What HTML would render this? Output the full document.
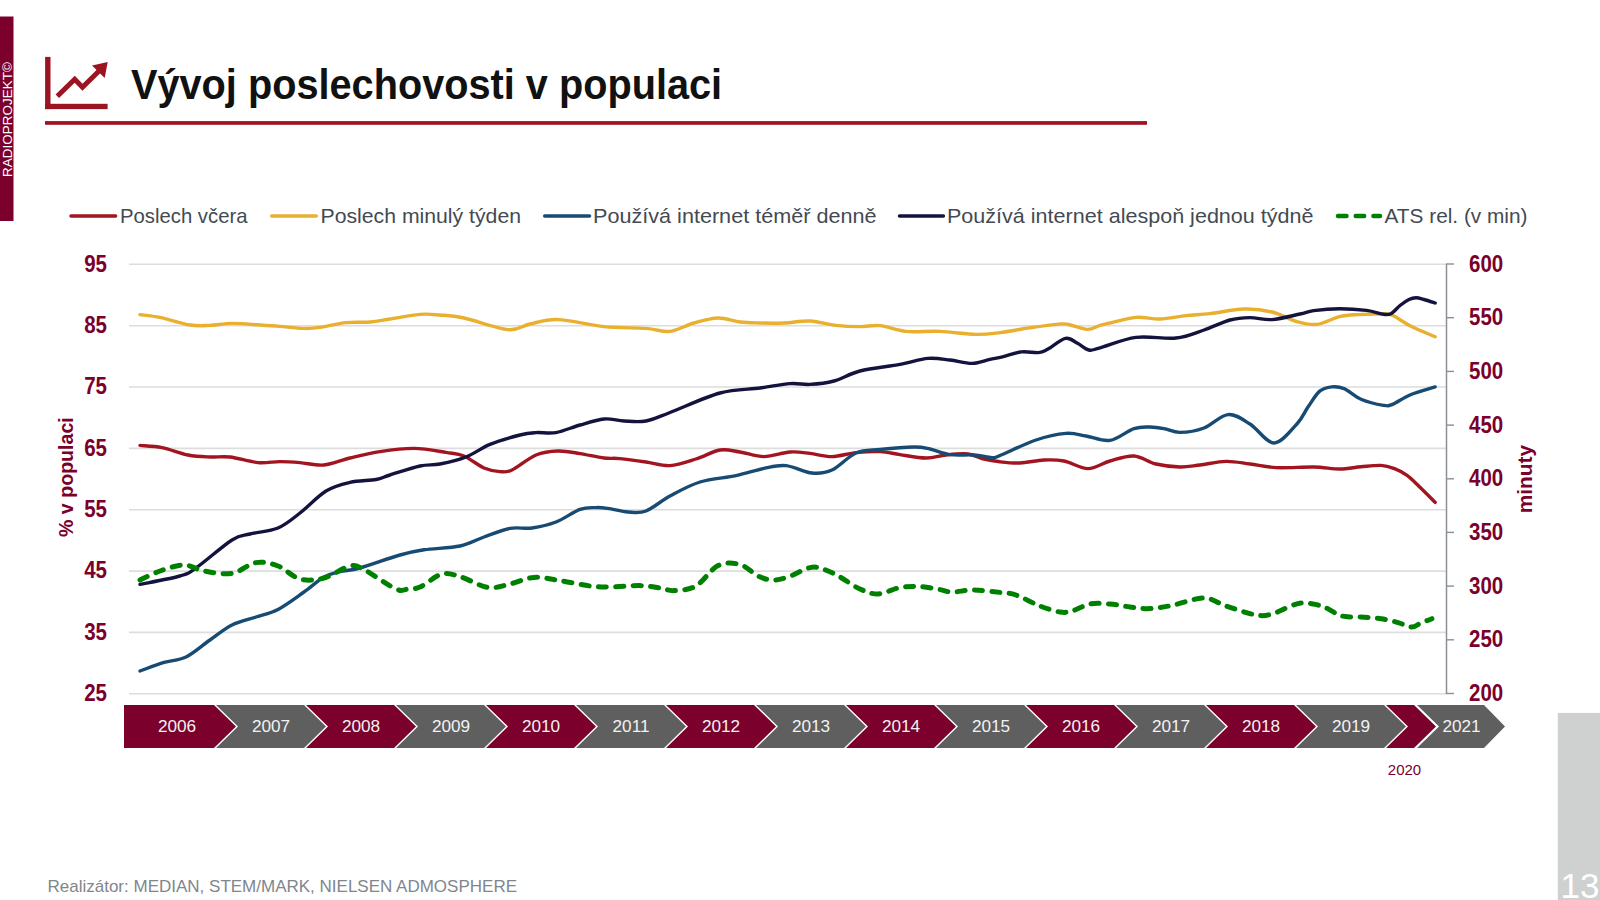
<!DOCTYPE html>
<html><head><meta charset="utf-8">
<style>
html,body{margin:0;padding:0;background:#fff;}
body{width:1600px;height:900px;overflow:hidden;position:relative;}
svg{position:absolute;left:0;top:0;}
text{font-family:"Liberation Sans",sans-serif;}
.ax{font-weight:bold;font-size:20.5px;fill:#7B002C;}
.yr{font-size:17.2px;fill:#F2F2F2;}
.lg{font-size:21px;fill:#434A52;}
</style></head><body>
<svg width="1600" height="900" viewBox="0 0 1600 900">
<rect x="0" y="16.5" width="13.5" height="204.5" fill="#7B002C"/>
<text transform="translate(11.5,177) rotate(-90)" style="font-size:13.5px;fill:#fff">RADIOPROJEKT©</text>
<g fill="#9C1421">
<rect x="45.1" y="56.9" width="5.4" height="52.2"/>
<rect x="45.1" y="103.8" width="62.5" height="5.3"/>
<polygon points="107.7,62 92,65.6 104.7,78"/>
</g>
<polyline points="57.3,96.2 74.7,79.3 82.5,87.3 99.5,70.5" fill="none" stroke="#9C1421" stroke-width="5" stroke-linejoin="miter"/>
<text x="131" y="99.5" style="font-weight:bold;font-size:39.7px;fill:#111111" transform="translate(0,99.5) scale(1,1.09) translate(0,-99.5)">Vývoj poslechovosti v populaci</text>
<rect x="45" y="121.1" width="1102" height="3.7" fill="#9C1421"/>
<!-- legend -->
<line x1="71" y1="216" x2="115.6" y2="216" stroke="#A2141F" stroke-width="3.5" stroke-linecap="round"/>
<text x="120" y="222.5" class="lg" textLength="127.5" lengthAdjust="spacingAndGlyphs">Poslech včera</text>
<line x1="271.7" y1="216" x2="316.3" y2="216" stroke="#E9B02F" stroke-width="3.5" stroke-linecap="round"/>
<text x="320.5" y="222.5" class="lg" textLength="200.5" lengthAdjust="spacingAndGlyphs">Poslech minulý týden</text>
<line x1="544.7" y1="216" x2="589.5" y2="216" stroke="#174B73" stroke-width="3.5" stroke-linecap="round"/>
<text x="593" y="222.5" class="lg" textLength="283.5" lengthAdjust="spacingAndGlyphs">Používá internet téměř denně</text>
<line x1="899.5" y1="216" x2="943.4" y2="216" stroke="#14133D" stroke-width="3.5" stroke-linecap="round"/>
<text x="947" y="222.5" class="lg" textLength="366.5" lengthAdjust="spacingAndGlyphs">Používá internet alespoň jednou týdně</text>
<line x1="1338" y1="216" x2="1380" y2="216" stroke="#008000" stroke-width="4.5" stroke-linecap="round" stroke-dasharray="8.5 9.2"/>
<text x="1384.5" y="222.5" class="lg" textLength="143" lengthAdjust="spacingAndGlyphs">ATS rel. (v min)</text>
<line x1="129" y1="264.3" x2="1447" y2="264.3" stroke="#DEDDDD" stroke-width="1.6"/>
<line x1="129" y1="325.7" x2="1447" y2="325.7" stroke="#DEDDDD" stroke-width="1.6"/>
<line x1="129" y1="387.0" x2="1447" y2="387.0" stroke="#DEDDDD" stroke-width="1.6"/>
<line x1="129" y1="448.4" x2="1447" y2="448.4" stroke="#DEDDDD" stroke-width="1.6"/>
<line x1="129" y1="509.7" x2="1447" y2="509.7" stroke="#DEDDDD" stroke-width="1.6"/>
<line x1="129" y1="571.1" x2="1447" y2="571.1" stroke="#DEDDDD" stroke-width="1.6"/>
<line x1="129" y1="632.4" x2="1447" y2="632.4" stroke="#DEDDDD" stroke-width="1.6"/>
<line x1="129" y1="693.8" x2="1447" y2="693.8" stroke="#DEDDDD" stroke-width="1.6"/>

<line x1="1446.5" y1="264" x2="1446.5" y2="694" stroke="#8A9096" stroke-width="1.5"/>
<line x1="1446" y1="264.0" x2="1454" y2="264.0" stroke="#8A9096" stroke-width="1.4"/>
<line x1="1446" y1="317.7" x2="1454" y2="317.7" stroke="#8A9096" stroke-width="1.4"/>
<line x1="1446" y1="371.4" x2="1454" y2="371.4" stroke="#8A9096" stroke-width="1.4"/>
<line x1="1446" y1="425.1" x2="1454" y2="425.1" stroke="#8A9096" stroke-width="1.4"/>
<line x1="1446" y1="478.8" x2="1454" y2="478.8" stroke="#8A9096" stroke-width="1.4"/>
<line x1="1446" y1="532.4" x2="1454" y2="532.4" stroke="#8A9096" stroke-width="1.4"/>
<line x1="1446" y1="586.1" x2="1454" y2="586.1" stroke="#8A9096" stroke-width="1.4"/>
<line x1="1446" y1="639.8" x2="1454" y2="639.8" stroke="#8A9096" stroke-width="1.4"/>
<line x1="1446" y1="693.5" x2="1454" y2="693.5" stroke="#8A9096" stroke-width="1.4"/>

<text x="107" y="0" text-anchor="end" class="ax" transform="translate(0,271.6) scale(1,1.15)">95</text>
<text x="107" y="0" text-anchor="end" class="ax" transform="translate(0,333.0) scale(1,1.15)">85</text>
<text x="107" y="0" text-anchor="end" class="ax" transform="translate(0,394.3) scale(1,1.15)">75</text>
<text x="107" y="0" text-anchor="end" class="ax" transform="translate(0,455.7) scale(1,1.15)">65</text>
<text x="107" y="0" text-anchor="end" class="ax" transform="translate(0,517.0) scale(1,1.15)">55</text>
<text x="107" y="0" text-anchor="end" class="ax" transform="translate(0,578.4) scale(1,1.15)">45</text>
<text x="107" y="0" text-anchor="end" class="ax" transform="translate(0,639.7) scale(1,1.15)">35</text>
<text x="107" y="0" text-anchor="end" class="ax" transform="translate(0,701.1) scale(1,1.15)">25</text>

<text x="1469" y="0" class="ax" transform="translate(0,271.6) scale(1,1.15)">600</text>
<text x="1469" y="0" class="ax" transform="translate(0,325.3) scale(1,1.15)">550</text>
<text x="1469" y="0" class="ax" transform="translate(0,379.0) scale(1,1.15)">500</text>
<text x="1469" y="0" class="ax" transform="translate(0,432.7) scale(1,1.15)">450</text>
<text x="1469" y="0" class="ax" transform="translate(0,486.4) scale(1,1.15)">400</text>
<text x="1469" y="0" class="ax" transform="translate(0,540.0) scale(1,1.15)">350</text>
<text x="1469" y="0" class="ax" transform="translate(0,593.7) scale(1,1.15)">300</text>
<text x="1469" y="0" class="ax" transform="translate(0,647.4) scale(1,1.15)">250</text>
<text x="1469" y="0" class="ax" transform="translate(0,701.1) scale(1,1.15)">200</text>

<text transform="translate(72.5,537) rotate(-90)" style="font-weight:bold;font-size:19.6px;fill:#7B002C">% v populaci</text>
<text transform="translate(1531.5,513.3) rotate(-90)" style="font-weight:bold;font-size:20.9px;fill:#7B002C">minuty</text>
<g fill="none" stroke-linecap="round" stroke-linejoin="round">
<path d="M140.0 314.6 C143.3 315.1 151.7 315.7 160.0 317.4 C168.3 319.1 181.7 323.7 190.0 325.0 C198.3 326.3 203.0 325.7 210.0 325.4 C217.0 325.1 223.7 323.5 232.0 323.4 C240.3 323.3 252.0 324.5 260.0 325.0 C268.0 325.5 272.7 325.8 280.0 326.4 C287.3 327.0 297.3 328.2 304.0 328.4 C310.7 328.6 313.0 328.4 320.0 327.4 C327.0 326.4 337.7 323.5 346.0 322.6 C354.3 321.7 362.7 322.6 370.0 322.0 C377.3 321.4 381.7 320.3 390.0 319.0 C398.3 317.7 411.7 315.1 420.0 314.4 C428.3 313.7 432.7 314.4 440.0 315.0 C447.3 315.6 452.7 315.6 464.0 318.0 C475.3 320.4 497.0 328.6 508.0 329.6 C519.0 330.6 521.7 325.7 530.0 324.0 C538.3 322.3 545.7 319.2 558.0 319.6 C570.3 320.0 589.3 325.1 604.0 326.6 C618.7 328.1 635.0 327.6 646.0 328.4 C657.0 329.2 662.0 332.3 670.0 331.4 C678.0 330.5 686.0 325.2 694.0 323.0 C702.0 320.8 710.3 318.2 718.0 318.0 C725.7 317.8 733.0 321.2 740.0 322.0 C747.0 322.8 752.7 322.8 760.0 323.0 C767.3 323.2 775.7 323.3 784.0 323.0 C792.3 322.7 801.3 320.6 810.0 321.0 C818.7 321.4 827.7 324.5 836.0 325.4 C844.3 326.3 852.7 326.6 860.0 326.6 C867.3 326.6 872.3 324.8 880.0 325.6 C887.7 326.4 896.0 330.4 906.0 331.4 C916.0 332.4 928.3 330.9 940.0 331.4 C951.7 331.9 966.0 334.2 976.0 334.4 C986.0 334.6 991.0 333.7 1000.0 332.6 C1009.0 331.5 1020.2 329.2 1030.0 327.8 C1039.8 326.4 1052.4 324.7 1058.8 324.1 C1065.2 323.6 1063.8 323.6 1068.5 324.5 C1073.2 325.4 1082.0 329.3 1087.3 329.4 C1092.5 329.5 1096.2 326.4 1100.0 325.3 C1103.8 324.2 1104.0 324.3 1110.0 323.0 C1116.0 321.7 1127.7 318.1 1136.0 317.4 C1144.3 316.7 1151.7 319.3 1160.0 319.0 C1168.3 318.7 1177.7 316.5 1186.0 315.6 C1194.3 314.7 1200.3 314.7 1210.0 313.6 C1219.7 312.5 1233.7 309.3 1244.0 309.0 C1254.3 308.7 1263.2 309.9 1272.0 312.0 C1280.8 314.1 1289.4 319.5 1296.9 321.6 C1304.4 323.7 1309.9 325.2 1317.0 324.4 C1324.1 323.6 1332.6 318.2 1339.6 316.6 C1346.5 315.0 1352.7 315.0 1358.7 314.6 C1364.7 314.2 1370.1 313.9 1375.6 314.0 C1381.0 314.1 1385.6 312.9 1391.4 314.9 C1397.2 316.9 1403.2 322.5 1410.5 326.1 C1417.8 329.8 1431.1 335.0 1435.2 336.8" stroke="#E9B02F" stroke-width="3.4"/>
<path d="M140.0 445.4 C143.7 445.8 154.0 446.0 162.0 447.6 C170.0 449.2 180.0 453.4 188.0 455.0 C196.0 456.6 203.0 456.7 210.0 457.0 C217.0 457.3 222.0 456.1 230.0 457.0 C238.0 457.9 249.7 461.8 258.0 462.6 C266.3 463.4 273.0 461.6 280.0 461.6 C287.0 461.6 292.7 462.0 300.0 462.6 C307.3 463.2 315.7 465.8 324.0 465.0 C332.3 464.2 340.7 460.2 350.0 458.0 C359.3 455.8 369.3 453.2 380.0 451.6 C390.7 450.0 403.0 448.3 414.0 448.4 C425.0 448.5 437.7 451.1 446.0 452.4 C454.3 453.7 457.7 453.4 464.0 456.0 C470.3 458.6 478.0 465.4 484.0 468.0 C490.0 470.6 495.3 471.3 500.0 471.6 C504.7 471.9 506.0 472.8 512.0 470.0 C518.0 467.2 528.3 458.2 536.0 455.0 C543.7 451.8 550.7 451.2 558.0 451.0 C565.3 450.8 572.3 452.4 580.0 453.6 C587.7 454.8 597.3 457.2 604.0 458.0 C610.7 458.8 613.0 457.9 620.0 458.6 C627.0 459.3 637.7 460.8 646.0 462.0 C654.3 463.2 661.7 466.1 670.0 465.6 C678.3 465.1 687.7 461.6 696.0 459.0 C704.3 456.4 712.7 451.2 720.0 450.0 C727.3 448.8 732.7 450.9 740.0 452.0 C747.3 453.1 755.7 456.6 764.0 456.6 C772.3 456.6 782.3 452.5 790.0 452.0 C797.7 451.5 803.0 452.6 810.0 453.4 C817.0 454.2 824.3 456.7 832.0 456.6 C839.7 456.5 848.0 453.4 856.0 452.6 C864.0 451.8 872.7 451.3 880.0 451.6 C887.3 451.9 892.3 453.5 900.0 454.6 C907.7 455.7 918.3 457.9 926.0 458.0 C933.7 458.1 939.0 455.7 946.0 455.0 C953.0 454.3 961.7 453.3 968.0 454.0 C974.3 454.7 978.7 457.7 984.0 459.0 C989.3 460.3 994.0 461.1 1000.0 461.8 C1006.0 462.5 1012.7 463.3 1020.0 463.0 C1027.3 462.7 1036.7 460.3 1044.0 460.0 C1051.3 459.7 1056.7 459.6 1064.0 461.0 C1071.3 462.4 1080.3 468.6 1088.0 468.6 C1095.7 468.6 1102.3 463.1 1110.0 461.0 C1117.7 458.9 1126.3 455.5 1134.0 456.0 C1141.7 456.5 1148.3 462.2 1156.0 464.0 C1163.7 465.8 1172.7 466.8 1180.0 467.0 C1187.3 467.2 1192.3 465.9 1200.0 465.0 C1207.7 464.1 1217.7 461.6 1226.0 461.4 C1234.3 461.2 1241.7 463.0 1250.0 464.0 C1258.3 465.0 1265.4 467.1 1276.0 467.6 C1286.6 468.1 1303.1 466.8 1313.7 467.0 C1324.3 467.2 1331.7 469.0 1339.6 469.0 C1347.5 469.0 1354.1 467.4 1361.0 466.8 C1367.9 466.2 1375.4 465.1 1381.0 465.4 C1386.6 465.7 1390.2 467.0 1394.5 468.6 C1398.8 470.2 1402.6 472.3 1406.7 475.2 C1410.8 478.1 1414.2 481.7 1418.9 486.2 C1423.7 490.7 1432.5 499.7 1435.2 502.4" stroke="#A2141F" stroke-width="3.4"/>
<path d="M140.0 671.0 C144.0 669.6 156.3 664.7 164.0 662.4 C171.7 660.1 178.3 660.7 186.0 657.0 C193.7 653.3 202.3 645.3 210.0 640.0 C217.7 634.7 224.3 628.8 232.0 625.0 C239.7 621.2 248.3 619.6 256.0 617.0 C263.7 614.4 270.0 613.6 278.0 609.4 C286.0 605.2 296.3 597.4 304.0 592.0 C311.7 586.6 318.0 580.4 324.0 577.0 C330.0 573.6 334.0 573.1 340.0 571.6 C346.0 570.1 350.0 570.8 360.0 568.0 C370.0 565.2 389.3 558.0 400.0 555.0 C410.7 552.0 414.0 551.3 424.0 549.8 C434.0 548.3 450.0 548.1 460.0 546.0 C470.0 543.9 475.7 539.9 484.0 537.0 C492.3 534.1 502.0 529.9 510.0 528.4 C518.0 526.9 524.3 529.1 532.0 528.0 C539.7 526.9 548.0 525.1 556.0 522.0 C564.0 518.9 573.3 511.8 580.0 509.4 C586.7 507.0 591.3 507.8 596.0 507.6 C600.7 507.4 602.7 507.7 608.0 508.4 C613.3 509.1 621.7 511.6 628.0 512.0 C634.3 512.4 639.0 513.7 646.0 511.0 C653.0 508.3 661.0 500.8 670.0 496.0 C679.0 491.2 689.0 485.4 700.0 482.0 C711.0 478.6 725.3 477.9 736.0 475.6 C746.7 473.3 755.7 470.1 764.0 468.4 C772.3 466.7 778.0 464.8 786.0 465.6 C794.0 466.4 804.3 472.3 812.0 473.0 C819.7 473.7 824.7 473.3 832.0 470.0 C839.3 466.7 848.0 456.4 856.0 453.0 C864.0 449.6 870.3 450.4 880.0 449.4 C889.7 448.4 905.7 447.1 914.0 447.0 C922.3 446.9 924.0 447.7 930.0 449.0 C936.0 450.3 942.7 453.6 950.0 454.6 C957.3 455.6 967.0 454.5 974.0 455.0 C981.0 455.5 987.7 457.5 992.0 457.6 C996.3 457.7 992.7 458.4 1000.0 455.5 C1007.3 452.6 1025.0 443.7 1036.0 440.0 C1047.0 436.3 1057.7 434.1 1066.0 433.4 C1074.3 432.7 1078.7 434.8 1086.0 436.0 C1093.3 437.2 1102.0 441.6 1110.0 440.4 C1118.0 439.2 1127.3 430.8 1134.0 428.6 C1140.7 426.4 1145.0 427.0 1150.0 427.0 C1155.0 427.0 1159.0 427.7 1164.0 428.6 C1169.0 429.5 1173.3 432.5 1180.0 432.4 C1186.7 432.3 1196.0 431.0 1204.0 428.0 C1212.0 425.0 1220.3 415.3 1228.0 414.6 C1235.7 413.9 1242.3 419.3 1250.0 424.0 C1257.7 428.7 1266.2 443.0 1274.0 443.0 C1281.8 443.0 1291.2 430.0 1296.9 424.0 C1302.6 418.0 1304.2 412.5 1308.0 407.1 C1311.8 401.7 1315.5 394.8 1319.4 391.4 C1323.4 388.0 1327.6 387.4 1331.7 386.9 C1335.8 386.4 1339.2 386.6 1344.1 388.6 C1349.0 390.7 1354.4 396.4 1361.0 399.2 C1367.6 402.0 1378.2 404.5 1383.5 405.4 C1388.8 406.2 1388.0 406.1 1392.5 404.3 C1397.0 402.5 1403.4 397.6 1410.5 394.7 C1417.6 391.8 1431.1 388.2 1435.2 386.9" stroke="#174B73" stroke-width="3.4"/>
<path d="M140.0 584.4 C146.7 583.0 170.7 578.7 180.0 576.0 C189.3 573.3 187.3 574.0 196.0 568.0 C204.7 562.0 223.0 545.7 232.0 540.0 C241.0 534.3 242.3 536.0 250.0 534.0 C257.7 532.0 269.7 531.5 278.0 528.0 C286.3 524.5 292.0 519.2 300.0 513.0 C308.0 506.8 317.7 496.1 326.0 491.0 C334.3 485.9 341.7 484.3 350.0 482.4 C358.3 480.5 369.3 480.7 376.0 479.5 C382.7 478.3 382.7 477.2 390.0 475.0 C397.3 472.8 411.7 467.8 420.0 466.0 C428.3 464.2 432.3 465.5 440.0 464.0 C447.7 462.5 457.7 460.3 466.0 457.0 C474.3 453.7 481.0 448.1 490.0 444.4 C499.0 440.7 512.3 437.0 520.0 435.0 C527.7 433.0 530.0 433.0 536.0 432.6 C542.0 432.2 548.7 433.9 556.0 432.6 C563.3 431.3 572.0 427.3 580.0 425.0 C588.0 422.7 596.7 419.7 604.0 419.0 C611.3 418.3 617.0 420.7 624.0 421.0 C631.0 421.3 638.3 422.4 646.0 421.0 C653.7 419.6 657.7 417.2 670.0 412.5 C682.3 407.8 705.0 397.1 720.0 393.0 C735.0 388.9 748.3 389.6 760.0 388.0 C771.7 386.4 781.7 384.2 790.0 383.6 C798.3 383.0 802.7 384.8 810.0 384.4 C817.3 384.0 825.7 383.2 834.0 381.0 C842.3 378.8 849.0 373.8 860.0 371.0 C871.0 368.2 888.7 366.5 900.0 364.4 C911.3 362.3 919.7 359.1 928.0 358.4 C936.3 357.7 942.7 359.2 950.0 360.0 C957.3 360.8 965.3 363.5 972.0 363.4 C978.7 363.3 984.9 360.5 990.0 359.4 C995.1 358.3 997.3 358.1 1002.5 356.8 C1007.7 355.6 1015.3 352.6 1021.3 351.9 C1027.3 351.2 1034.1 353.0 1038.5 352.6 C1042.9 352.2 1043.0 351.7 1047.5 349.3 C1052.0 346.9 1060.5 339.4 1065.5 338.4 C1070.5 337.4 1073.6 341.4 1077.5 343.3 C1081.4 345.2 1085.0 349.2 1088.8 350.0 C1092.5 350.8 1092.1 349.9 1100.0 347.8 C1107.9 345.7 1123.3 339.0 1136.0 337.4 C1148.7 335.8 1164.7 339.2 1176.0 338.0 C1187.3 336.8 1195.0 333.0 1204.0 330.0 C1213.0 327.0 1222.3 322.1 1230.0 320.0 C1237.7 317.9 1243.0 317.7 1250.0 317.6 C1257.0 317.5 1263.7 320.2 1272.0 319.6 C1280.3 319.0 1293.0 315.5 1300.0 314.0 C1307.0 312.5 1307.1 311.5 1313.7 310.6 C1320.3 309.7 1330.8 308.7 1339.6 308.7 C1348.4 308.7 1359.3 309.5 1366.6 310.4 C1373.9 311.3 1379.4 313.8 1383.5 314.3 C1387.6 314.8 1388.7 314.9 1391.4 313.4 C1394.2 311.9 1397.1 307.8 1400.0 305.5 C1402.9 303.2 1406.3 300.8 1409.0 299.5 C1411.7 298.2 1413.5 297.8 1416.0 297.8 C1418.5 297.8 1420.8 298.6 1424.0 299.5 C1427.2 300.4 1433.3 302.4 1435.2 303.0" stroke="#14133D" stroke-width="3.4"/>
<path d="M140.0 580.0 C143.3 578.5 152.7 573.5 160.0 571.0 C167.3 568.5 176.7 565.0 184.0 565.0 C191.3 565.0 196.0 569.6 204.0 571.0 C212.0 572.4 223.3 574.8 232.0 573.4 C240.7 572.0 248.3 563.8 256.0 562.6 C263.7 561.4 270.7 563.3 278.0 566.0 C285.3 568.7 292.3 577.0 300.0 579.0 C307.7 581.0 315.7 580.2 324.0 578.0 C332.3 575.8 343.3 567.4 350.0 566.0 C356.7 564.6 356.3 565.8 364.0 569.6 C371.7 573.4 388.7 585.8 396.0 589.0 C403.3 592.2 404.0 589.3 408.0 589.0 C412.0 588.7 414.3 589.5 420.0 587.0 C425.7 584.5 435.3 575.7 442.0 574.0 C448.7 572.3 452.3 574.4 460.0 576.6 C467.7 578.8 479.7 586.2 488.0 587.4 C496.3 588.6 502.3 585.7 510.0 584.0 C517.7 582.3 525.7 578.0 534.0 577.4 C542.3 576.8 550.7 579.2 560.0 580.6 C569.3 582.0 581.7 584.9 590.0 586.0 C598.3 587.1 601.7 587.1 610.0 587.0 C618.3 586.9 631.7 585.4 640.0 585.6 C648.3 585.8 654.3 587.2 660.0 588.0 C665.7 588.8 668.0 590.9 674.0 590.6 C680.0 590.3 688.7 590.2 696.0 586.0 C703.3 581.8 710.7 569.2 718.0 565.6 C725.3 562.0 733.3 562.8 740.0 564.5 C746.7 566.2 752.7 573.4 758.0 576.0 C763.3 578.6 767.0 579.8 772.0 580.0 C777.0 580.2 781.7 579.1 788.0 577.0 C794.3 574.9 804.0 568.9 810.0 567.6 C816.0 566.3 819.0 567.8 824.0 569.4 C829.0 571.0 834.0 573.7 840.0 577.0 C846.0 580.3 853.7 586.2 860.0 589.0 C866.3 591.8 871.3 594.2 878.0 594.0 C884.7 593.8 893.0 588.8 900.0 587.6 C907.0 586.4 913.3 586.3 920.0 586.6 C926.7 586.9 934.7 588.7 940.0 589.6 C945.3 590.5 946.3 591.9 952.0 592.0 C957.7 592.1 966.0 589.9 974.0 590.0 C982.0 590.1 993.0 591.6 1000.0 592.4 C1007.0 593.2 1009.3 592.7 1016.0 595.0 C1022.7 597.3 1032.7 603.2 1040.0 606.0 C1047.3 608.8 1054.7 611.2 1060.0 612.0 C1065.3 612.8 1067.0 612.3 1072.0 611.0 C1077.0 609.7 1083.7 605.2 1090.0 604.0 C1096.3 602.8 1103.3 603.5 1110.0 604.0 C1116.7 604.5 1123.3 606.2 1130.0 607.0 C1136.7 607.8 1143.0 608.9 1150.0 608.6 C1157.0 608.3 1163.0 607.2 1172.0 605.4 C1181.0 603.6 1195.0 597.9 1204.0 598.0 C1213.0 598.1 1217.3 603.2 1226.0 606.0 C1234.7 608.8 1248.3 613.7 1256.0 615.0 C1263.7 616.3 1266.1 615.5 1272.0 614.0 C1277.9 612.5 1286.1 607.6 1291.2 605.7 C1296.3 603.9 1298.8 603.2 1302.5 602.9 C1306.2 602.6 1310.0 603.4 1313.7 604.1 C1317.5 604.9 1320.9 605.6 1325.0 607.4 C1329.1 609.2 1334.8 613.1 1338.5 614.7 C1342.2 616.3 1343.2 616.4 1347.5 616.8 C1351.8 617.2 1358.8 616.9 1364.4 617.2 C1370.0 617.5 1375.6 617.8 1381.2 618.7 C1386.8 619.6 1393.0 621.2 1398.1 622.6 C1403.2 624.0 1407.8 627.0 1411.6 627.1 C1415.3 627.2 1417.2 624.6 1420.6 623.2 C1424.0 621.8 1430.0 619.5 1431.9 618.7" stroke="#008000" stroke-width="5" stroke-dasharray="8.1 9.3"/>
</g>
<polygon points="124,705 214,705 236,726.5 214,748 124,748" fill="#7B002C"/>
<text x="177" y="732.4" text-anchor="middle" class="yr">2006</text>
<polygon points="216,705 304,705 326,726.5 304,748 216,748 238,726.5" fill="#5F5F5F"/>
<text x="271" y="732.4" text-anchor="middle" class="yr">2007</text>
<polygon points="306,705 394,705 416,726.5 394,748 306,748 328,726.5" fill="#7B002C"/>
<text x="361" y="732.4" text-anchor="middle" class="yr">2008</text>
<polygon points="396,705 484,705 506,726.5 484,748 396,748 418,726.5" fill="#5F5F5F"/>
<text x="451" y="732.4" text-anchor="middle" class="yr">2009</text>
<polygon points="486,705 574,705 596,726.5 574,748 486,748 508,726.5" fill="#7B002C"/>
<text x="541" y="732.4" text-anchor="middle" class="yr">2010</text>
<polygon points="576,705 664,705 686,726.5 664,748 576,748 598,726.5" fill="#5F5F5F"/>
<text x="631" y="732.4" text-anchor="middle" class="yr">2011</text>
<polygon points="666,705 754,705 776,726.5 754,748 666,748 688,726.5" fill="#7B002C"/>
<text x="721" y="732.4" text-anchor="middle" class="yr">2012</text>
<polygon points="756,705 844,705 866,726.5 844,748 756,748 778,726.5" fill="#5F5F5F"/>
<text x="811" y="732.4" text-anchor="middle" class="yr">2013</text>
<polygon points="846,705 934,705 956,726.5 934,748 846,748 868,726.5" fill="#7B002C"/>
<text x="901" y="732.4" text-anchor="middle" class="yr">2014</text>
<polygon points="936,705 1024,705 1046,726.5 1024,748 936,748 958,726.5" fill="#5F5F5F"/>
<text x="991" y="732.4" text-anchor="middle" class="yr">2015</text>
<polygon points="1026,705 1114,705 1136,726.5 1114,748 1026,748 1048,726.5" fill="#7B002C"/>
<text x="1081" y="732.4" text-anchor="middle" class="yr">2016</text>
<polygon points="1116,705 1204,705 1226,726.5 1204,748 1116,748 1138,726.5" fill="#5F5F5F"/>
<text x="1171" y="732.4" text-anchor="middle" class="yr">2017</text>
<polygon points="1206,705 1294,705 1316,726.5 1294,748 1206,748 1228,726.5" fill="#7B002C"/>
<text x="1261" y="732.4" text-anchor="middle" class="yr">2018</text>
<polygon points="1296,705 1384,705 1406,726.5 1384,748 1296,748 1318,726.5" fill="#5F5F5F"/>
<text x="1351" y="732.4" text-anchor="middle" class="yr">2019</text>
<polygon points="1386,705 1414,705 1436,726.5 1414,748 1386,748 1408,726.5" fill="#7B002C"/>
<polygon points="1417,705 1484,705 1505,726.5 1484,748 1417,748 1439,726.5" fill="#5F5F5F"/>
<text x="1461.5" y="732.4" text-anchor="middle" class="yr">2021</text>

<text x="1404.5" y="775.3" text-anchor="middle" style="font-size:15px;fill:#7B002C">2020</text>
<rect x="1557.8" y="712.9" width="42.2" height="187.1" fill="#CFD0D0"/>
<text x="1580" y="898" text-anchor="middle" style="font-size:35px;fill:#fff">13</text>
<text x="47.5" y="891.6" style="font-size:17px;fill:#7F868D">Realizátor: MEDIAN, STEM/MARK, NIELSEN ADMOSPHERE</text>
</svg>
</body></html>
